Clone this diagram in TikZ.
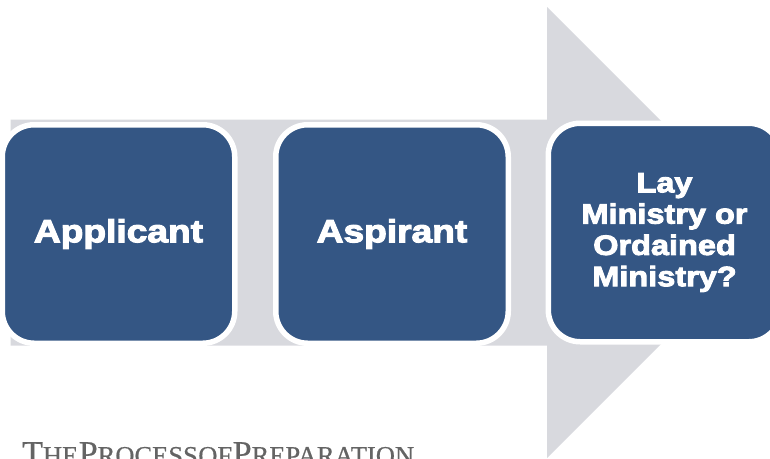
\documentclass[tikz,border=0pt]{standalone}
\usepackage{fontspec}
\newfontfamily\boxfont{Liberation Sans}[FakeStretch=1.16,FakeBold=3.4]
\newfontfamily\titlefont{Liberation Serif}[FakeBold=0.6]
\definecolor{boxblue}{RGB}{52,86,132}
\definecolor{arrowgray}{RGB}{216,217,222}
\definecolor{titlegray}{RGB}{100,100,100}
\tikzset{
  stagebox/.style={draw=white, line width=5.5pt, fill=boxblue, rounded corners=32pt,
    minimum width=232.5pt, minimum height=218.5pt, inner sep=0pt,
    text=white, align=center},
  bigtxt/.style={font=\boxfont\bfseries\fontsize{32}{36}\selectfont},
  smalltxt/.style={font=\boxfont\bfseries\fontsize{28}{31.3}\selectfont},
}
\begin{document}
\begin{tikzpicture}[x=1pt,y=-1pt]
\useasboundingbox (0,0) rectangle (770,458);
\clip (0,0) rectangle (770,458);
% big gray arrow
\fill[arrowgray] (10.7,119.5) -- (547,119.5) -- (547,7) -- (772.6,232.6) -- (547,458.2) -- (547,345.7) -- (10.7,345.7) -- cycle;
% boxes
\node[stagebox, bigtxt] (applicant) at (118.5,234) {Applicant};
\node[stagebox, bigtxt] (aspirant) at (392,234) {Aspirant};
\node[stagebox, smalltxt] (ministry) at (664.5,232.5) {Lay\\Ministry or\\Ordained\\Ministry?};
% title
\node[anchor=base west, inner sep=0pt, text=titlegray, font=\titlefont] (title) at (22,464.5)
  {\fontsize{34}{34}\selectfont T\fontsize{26.5}{26.5}\selectfont HE\kern0.5pt
   \fontsize{34}{34}\selectfont P\fontsize{26.5}{26.5}\selectfont ROCESS\kern0.5pt OF\kern0.5pt
   \fontsize{34}{34}\selectfont P\fontsize{26.5}{26.5}\selectfont REPARATION};
\end{tikzpicture}
\end{document}
